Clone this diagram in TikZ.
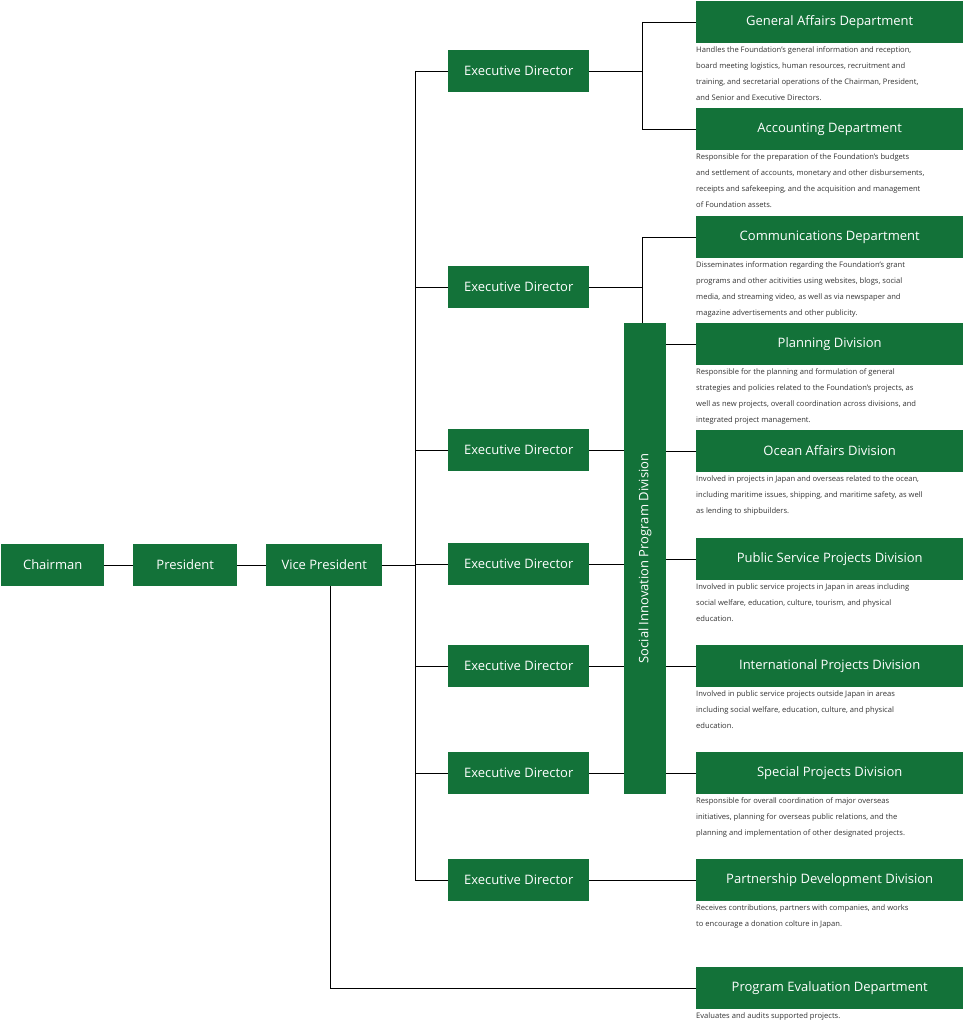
\documentclass[tikz,border=0pt]{standalone}
\usepackage{fontspec}
\setmainfont{Open Sans}
\definecolor{fgreen}{HTML}{137239}
\definecolor{desc}{HTML}{333333}
\tikzstyle{box} = [fill=fgreen, text=white, minimum height=42pt, inner sep=0pt, font=\fontsize{13}{15}\selectfont\addfontfeature{LetterSpace=0}]
\tikzstyle{dept} = [box, minimum width=267pt, anchor=west]
\tikzstyle{ed} = [box, minimum width=141pt, anchor=west]
\tikzstyle{info} = [anchor=north west, inner xsep=0pt, inner ysep=3pt, text=desc, align=left, font=\fontsize{7.6}{16}\selectfont]
\tikzstyle{link} = [draw, black, line width=0.8pt]

\begin{document}
\begin{tikzpicture}[x=1pt, y=-1pt]
\useasboundingbox (0,0) rectangle (966,1024);
% top levels
\node[box, minimum width=103pt, anchor=west] (chair) at (1,565) {Chairman};
\node[box, minimum width=104pt, anchor=west] (pres) at (133,565) {President};
\node[box, minimum width=116pt, anchor=west] (vp) at (266,565) {Vice President};
% executive directors
\foreach \y [count=\i] in {71,287,450,564,666,773,880}
    \node[ed] (ed\i) at (448,\y) {Executive Director};
% social innovation bar
\node[fill=fgreen, minimum width=42pt, minimum height=471pt, inner sep=0pt] (sip) at (645,558.5) {};
\node[text=white, rotate=90, font=\fontsize{13}{15}\selectfont] at (sip.center) {Social Innovation Program Division};
% departments
\node[dept] (ga) at (696,22) {General Affairs Department};
\node[info] at (ga.south west) {Handles the Foundation’s general information and reception,\\board meeting logistics, human resources, recruitment and\\training, and secretarial operations of the Chairman, President,\\and Senior and Executive Directors.};
\node[dept] (acc) at (696,129) {Accounting Department};
\node[info] at (acc.south west) {Responsible for the preparation of the Foundation’s budgets\\and settlement of accounts, monetary and other disbursements,\\receipts and safekeeping, and the acquisition and management\\of Foundation assets.};
\node[dept] (comm) at (696,237) {Communications Department};
\node[info] at (comm.south west) {Disseminates information regarding the Foundation’s grant\\programs and other acitivities using websites, blogs, social\\media, and streaming video, as well as via newspaper and\\magazine advertisements and other publicity.};
\node[dept] (plan) at (696,344) {Planning Division};
\node[info] at (plan.south west) {Responsible for the planning and formulation of general\\strategies and policies related to the Foundation’s projects, as\\well as new projects, overall coordination across divisions, and\\integrated project management.};
\node[dept] (ocean) at (696,451) {Ocean Affairs Division};
\node[info] at (ocean.south west) {Involved in projects in Japan and overseas related to the ocean,\\including maritime issues, shipping, and maritime safety, as well\\as lending to shipbuilders.};
\node[dept] (pub) at (696,559) {Public Service Projects Division};
\node[info] at (pub.south west) {Involved in public service projects in Japan in areas including\\social welfare, education, culture, tourism, and physical\\education.};
\node[dept] (intl) at (696,666) {International Projects Division};
\node[info] at (intl.south west) {Involved in public service projects outside Japan in areas\\including social welfare, education, culture, and physical\\education.};
\node[dept] (spec) at (696,773) {Special Projects Division};
\node[info] at (spec.south west) {Responsible for overall coordination of major overseas\\initiatives, planning for overseas public relations, and the\\planning and implementation of other designated projects.};
\node[dept] (part) at (696,880) {Partnership Development Division};
\node[info] at (part.south west) {Receives contributions, partners with companies, and works\\to encourage a donation colture in Japan.};
\node[dept] (eval) at (696,988) {Program Evaluation Department};
\node[info] at (eval.south west) {Evaluates and audits supported projects.};
% connectors
\coordinate (spine) at (415,0);
\coordinate (fork) at (642,0);
\coordinate (vpdown) at (330,0);
\draw[link] (chair) -- (pres);
\draw[link] (pres) -- (vp);
\draw[link] (vp) -- (vp -| spine);
\draw[link] (ed1 -| spine) -- (ed7 -| spine);
\foreach \i in {1,...,7}
    \draw[link] (ed\i.west -| spine) -- (ed\i.west);
\draw[link] (ed1) -- (ed1 -| fork);
\draw[link] (ga -| fork) -- (acc -| fork);
\draw[link] (ga -| fork) -- (ga.west);
\draw[link] (acc -| fork) -- (acc.west);
\draw[link] (ed2) -- (ed2 -| fork);
\draw[link] (comm -| fork) -- (sip.north -| fork);
\draw[link] (comm -| fork) -- (comm.west);
\foreach \i in {3,...,6}
    \draw[link] (ed\i) -- (ed\i -| sip.west);
\foreach \d in {plan,ocean,pub,intl,spec}
    \draw[link] (\d -| sip.east) -- (\d.west);
\draw[link] (ed7) -- (part);
\draw[link] (vp.south -| vpdown) -- (eval -| vpdown) -- (eval.west);
\end{tikzpicture}
\end{document}
